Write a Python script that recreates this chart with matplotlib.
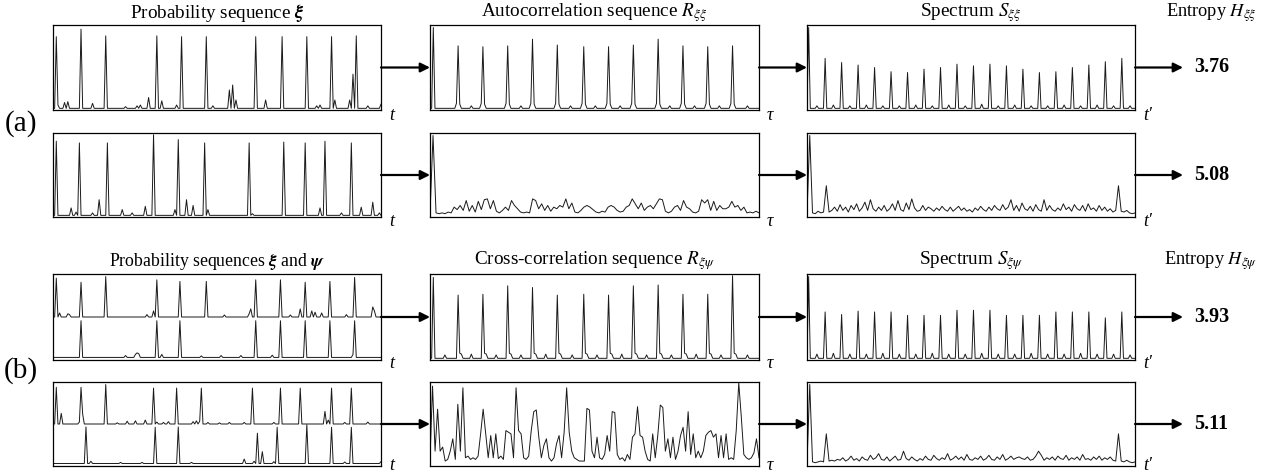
import numpy as np
import matplotlib.pyplot as plt

plt.rcParams['font.family'] = 'Liberation Serif'
plt.rcParams['mathtext.fontset'] = 'stix'

W, H = 1273, 476
N = 200

# ---------------- data ----------------
# (a) row 1 : probability sequence xi
xi_a1_idx = [2, 3, 7, 9, 17, 24, 32, 44, 51, 53, 58, 63, 66, 75, 78, 93, 97, 107, 109, 111,
             123, 129, 139, 154, 160, 162, 169, 171, 180, 182, 184, 191, 199]
xi_a1_val = [.86, .04, .07, .08, .95, .06, .87, .02, .03, .04, .13, .87, .09, .04, .86, .86, .03, .22, .28, .10,
             .86, .10, .86, .86, .03, .04, .86, .10, .10, .41, .87, .03, .05]

# (a) row 2 : probability sequence xi
xi_a2_idx = [2, 11, 14, 16, 24, 28, 33, 42, 48, 56, 61, 74, 76, 81, 85, 92, 94, 119, 121,
             140, 153, 162, 165, 175, 181, 187, 194, 198]
xi_a2_val = [.90, .09, .04, .88, .03, .19, .88, .07, .03, .11, .98, .07, .92, .19, .12, .88, .07, .88, .02,
             .89, .88, .09, .90, .03, .88, .10, .16, .03]

# (a) row 1 : autocorrelation
acf_a1_idx = [2, 16, 17, 18, 31, 32, 33, 46, 47, 48, 61, 62, 63, 76, 77, 78, 92, 93, 94,
              107, 108, 109, 122, 123, 124, 137, 138, 139, 152, 153, 154, 167, 168, 169,
              182, 183, 184, 25, 55, 85, 100, 115, 145, 160, 175, 192]
acf_a1_val = [.97, .06, .75, .05, .06, .74, .05, .06, .75, .05, .06, .83, .05, .06, .76, .05, .06, .74, .05,
              .06, .74, .05, .06, .76, .05, .06, .83, .05, .06, .75, .05, .06, .74, .05,
              .06, .75, .05, .03, .03, .03, .03, .03, .03, .03, .03, .03]

# (a) row 2 : autocorrelation (noisy)
acf_a2 = [0.02, 0.97, 0.03, 0.02, 0.03, 0.02, 0.04, 0.03, 0.10, 0.07, 0.12, 0.06, 0.18, 0.05, 0.12, 0.04,
          0.17, 0.07, 0.19, 0.20, 0.08, 0.18, 0.05, 0.03, 0.06, 0.10, 0.06, 0.18, 0.12, 0.08, 0.04, 0.03,
          0.04, 0.03, 0.20, 0.18, 0.08, 0.14, 0.06, 0.12, 0.05, 0.10, 0.08, 0.12, 0.10, 0.20, 0.08, 0.15,
          0.04, 0.03, 0.06, 0.10, 0.12, 0.10, 0.07, 0.04, 0.03, 0.05, 0.04, 0.10, 0.12, 0.10, 0.06, 0.04,
          0.05, 0.10, 0.12, 0.20, 0.14, 0.08, 0.15, 0.06, 0.10, 0.12, 0.08, 0.14, 0.20, 0.19, 0.05, 0.03,
          0.05, 0.10, 0.12, 0.06, 0.18, 0.10, 0.08, 0.04, 0.03, 0.05, 0.19, 0.15, 0.19, 0.06, 0.17, 0.06,
          0.12, 0.08, 0.08, 0.10, 0.17, 0.10, 0.12, 0.06, 0.10, 0.03, 0.04, 0.03, 0.05, 0.03]

# (a) row 1 : spectrum
spec_a1_idx = [1, 11, 21, 31, 41, 51, 61, 71, 81, 91, 101, 111, 121, 131, 141, 151, 161, 171, 181, 191,
               6, 16, 26, 36, 46, 56, 66, 76, 86, 96, 106, 116, 126, 136, 146, 156, 166, 176, 186, 196]
spec_a1_val = [.97, .60, .55, .52, .49, .44, .43, .47, .49, .53, .51, .53, .51, .47, .43, .44, .49, .52, .56, .60,
               .03, .04, .03, .04, .03, .03, .04, .03, .04, .03, .05, .03, .04, .03, .03, .04, .03, .04, .03, .03]

# (a) row 2 : spectrum (noisy)
spec_a2 = [.02, .97, .03, .02, .05, .03, .04, .36, .04, .06,
           .10, .05, .13, .06, .10, .04, .12, .07, .14, .05,
           .09, .16, .06, .19, .08, .05, .10, .06, .12, .05,
           .08, .14, .06, .18, .07, .05, .15, .07, .20, .09,
           .05, .06, .12, .06, .10, .08, .05, .09, .06, .11,
           .07, .05, .10, .05, .08, .11, .06, .09, .05, .07,
           .04, .09, .06, .11, .07, .05, .10, .06, .12, .08,
           .06, .13, .07, .10, .19, .06, .12, .05, .15, .08,
           .06, .11, .05, .13, .07, .05, .19, .06, .12, .07,
           .05, .09, .06, .14, .07, .10, .05, .13, .08, .06,
           .12, .05, .14, .07, .09, .05, .12, .06, .10, .05,
           .08, .04, .06, .36, .05, .04, .06, .03, .02, .03]

# (b) row 1 : probability sequences xi (upper) and psi (lower)
xi_b1_idx = [2, 4, 9, 10, 17, 32, 57, 61, 63, 77, 93, 104, 119, 120, 123, 138, 144, 150, 153, 157,
             159, 163, 168, 178, 183, 194, 195]
xi_b1_val = [.96, .10, .08, .06, .86, 1.0, .06, .15, .92, .88, .88, .05, .08, .20, .92, .92, .05, .20, .86, .15,
             .12, .10, .88, .06, .98, .25, .15]
psi_b1_idx = [17, 44, 50, 51, 52, 63, 66, 77, 90, 102, 114, 123, 133, 138, 153, 168, 182, 183]
psi_b1_val = [.97, .05, .08, .12, .10, .97, .08, .97, .04, .05, .05, .97, .06, .97, .97, .97, .08, .97]

# (b) row 2 : probability sequences xi (upper) and psi (lower)
xi_b2_idx = [2, 5, 16, 17, 18, 32, 39, 45, 50, 56, 61, 63, 67, 70, 75, 85, 87, 89, 90, 94, 101,
             107, 116, 121, 134, 138, 150, 165, 167, 169, 177, 181, 191]
xi_b2_val = [.93, .27, .05, .93, .25, 1.0, .03, .07, .08, .10, .91, .05, .04, .06, .91, .06, .08, .07, .91, .04, .03,
             .04, .04, .91, .04, .91, .91, .32, .10, .91, .04, .91, .05]
psi_b2_idx = [20, 23, 41, 54, 62, 76, 84, 116, 122, 124, 127, 134, 136, 154, 169, 177, 181, 199]
psi_b2_val = [.99, .06, .03, .03, .98, .99, .03, .12, .06, .82, .32, .05, .98, 1.05, .98, .04, .98, .05]

# (b) row 1 : cross-correlation
ccf_b1_idx = [2, 17, 32, 47, 62, 77, 93, 108, 123, 138, 153, 168, 183,
              18, 19, 33, 34, 48, 49, 63, 64, 78, 79, 94, 95, 109, 110, 124, 125, 139, 140,
              154, 155, 169, 170, 184, 185, 9, 25, 40, 55, 70, 86, 101, 116, 131, 146, 161, 176, 192]
ccf_b1_val = [.96, .75, .76, .86, .84, .75, .76, .75, .86, .87, .76, .76, .98,
              .06, .05, .06, .05, .06, .05, .06, .05, .06, .05, .06, .05, .06, .05, .06, .05, .06, .05,
              .06, .05, .06, .05, .06, .05, .04, .05, .04, .04, .05, .04, .04, .05, .04, .04, .05, .04, .04]

# (b) row 2 : cross-correlation (noisy)
ccf_b2 = [.06, .95, .16, .67, .16, .21, .04, .06, .16, .31, .06, .73, .16, .93, .08, .10,
          .06, .08, .06, .10, .37, .67, .37, .08, .35, .08, .37, .07, .10, .06, .41, .39,
          .37, .08, .93, .41, .37, .08, .06, .10, .41, .64, .66, .33, .08, .23, .31, .08,
          .04, .08, .25, .35, .08, .39, .93, .39, .16, .08, .06, .04, .04, .04, .68, .66,
          .16, .08, .33, .08, .06, .12, .35, .16, .64, .63, .12, .06, .08, .04, .12, .06,
          .33, .37, .70, .35, .33, .16, .06, .04, .37, .08, .35, .72, .69, .16, .31, .08,
          .33, .06, .16, .35, .45, .16, .64, .12, .37, .08, .16, .08, .16, .35, .39, .41,
          .33, .37, .08, .35, .08, .37, .06, .08, .06, .41, .99, .58, .12, .08, .06, .08,
          .14, .31, .08]

# (b) row 1 : spectrum
spec_b1_idx = spec_a1_idx
spec_b1_val = [.97, .55, .52, .56, .55, .55, .51, .51, .51, .57, .57, .57, .51, .51, .51, .55, .55, .55, .48, .55,
               .05, .06, .05, .05, .06, .05, .05, .06, .05, .05, .06, .05, .05, .06, .05, .05, .06, .05, .05, .04]

# (b) row 2 : spectrum (noisy)
spec_b2 = [.02, .97, .03, .02, .03, .04, .03, .37, .04, .05,
           .04, .06, .05, .08, .04, .06, .10, .05, .07, .04,
           .09, .06, .05, .11, .06, .08, .13, .06, .05, .09,
           .04, .07, .10, .05, .06, .16, .07, .05, .09, .06,
           .04, .07, .05, .10, .06, .05, .11, .07, .05, .08,
           .06, .13, .05, .07, .10, .06, .09, .05, .12, .06,
           .05, .08, .06, .10, .05, .07, .11, .06, .05, .09,
           .06, .12, .05, .07, .10, .06, .08, .09, .07, .06,
           .09, .05, .06, .10, .16, .11, .05, .08, .06, .09,
           .05, .10, .07, .06, .11, .05, .08, .06, .09, .05,
           .12, .06, .07, .05, .09, .06, .10, .05, .08, .06,
           .09, .05, .04, .37, .04, .03, .05, .03, .02, .03]

entropy_vals = ['3.76', '5.08', '3.93', '5.11']


def spikes(idx, val, n=N):
    y = np.zeros(n)
    y[idx] = val
    return y


# ---------------- layout (pixel boxes) ----------------
cols = [(53, 381), (430, 759), (807, 1135)]
rows = [(25, 110), (133, 217), (274, 360), (382, 466)]

fig = plt.figure(figsize=(W / 100, H / 100), dpi=100)


def box(c, r):
    x0, x1 = cols[c]
    y0, y1 = rows[r]
    ax = fig.add_axes([x0 / W, 1 - y1 / H, (x1 - x0) / W, (y1 - y0) / H])
    ax.set_xticks([])
    ax.set_yticks([])
    for s in ax.spines.values():
        s.set_linewidth(0.9)
    return ax


LC = '#1a1a1a'
LW = 0.7


def single(ax, y):
    x = np.arange(len(y))
    ax.plot(x, y, color=LC, lw=LW)
    ax.set_xlim(0, len(y) - 1)
    ax.set_ylim(-0.02, 1.0)


def pair(ax, up, lo):
    x = np.arange(N)
    ax.plot(x, 0.5 + 0.47 * up, color=LC, lw=LW)
    ax.plot(x, 0.03 + 0.44 * lo, color=LC, lw=LW)
    ax.set_xlim(0, N - 1)
    ax.set_ylim(0, 1.0)


single(box(0, 0), spikes(xi_a1_idx, xi_a1_val))
single(box(0, 1), spikes(xi_a2_idx, xi_a2_val))
single(box(1, 0), spikes(acf_a1_idx, acf_a1_val))
single(box(1, 1), np.array(acf_a2))
single(box(2, 0), spikes(spec_a1_idx, spec_a1_val))
single(box(2, 1), np.array(spec_a2))

pair(box(0, 2), spikes(xi_b1_idx, xi_b1_val), spikes(psi_b1_idx, psi_b1_val))
pair(box(0, 3), spikes(xi_b2_idx, xi_b2_val), spikes(psi_b2_idx, psi_b2_val))
single(box(1, 2), spikes(ccf_b1_idx, ccf_b1_val))
single(box(1, 3), np.array(ccf_b2))
single(box(2, 2), spikes(spec_b1_idx, spec_b1_val))
single(box(2, 3), np.array(spec_b2))

# ---------------- overlay: titles, arrows, labels ----------------
ov = fig.add_axes([0, 0, 1, 1], facecolor='none')
ov.set_xlim(0, W)
ov.set_ylim(H, 0)
ov.axis('off')

FS = 13.8
titles_a = [r'Probability sequence $\boldsymbol{\xi}$',
            r'Autocorrelation sequence $R_{\xi\xi}$',
            r'Spectrum $S_{\xi\xi}$']
titles_b = [r'Probability sequences $\boldsymbol{\xi}$ and $\boldsymbol{\psi}$',
            r'Cross-correlation sequence $R_{\xi\psi}$',
            r'Spectrum $S_{\xi\psi}$']
title_fs_b = [12.8, FS, FS]
for (x0, x1), ta, tb, fsb in zip(cols, titles_a, titles_b, title_fs_b):
    ov.text((x0 + x1) / 2, 13, ta, ha='center', va='center', fontsize=FS)
    ov.text((x0 + x1) / 2, 261, tb, ha='center', va='center', fontsize=fsb)
ov.text(1211, 13, r'Entropy $H_{\xi\xi}$', ha='center', va='center', fontsize=13.2)
ov.text(1211, 261, r'Entropy $H_{\xi\psi}$', ha='center', va='center', fontsize=13.2)

ov.text(21, 124, '(a)', ha='center', va='center', fontsize=21)
ov.text(21, 371, '(b)', ha='center', va='center', fontsize=21)

ap = dict(arrowstyle='-|>', lw=1.6, color='black', mutation_scale=14, shrinkA=0, shrinkB=0)
axis_lbl = ['t', '\u03c4', 't\u2032']
lbl_dy = [5, 5, 3, 0]
for (y0, y1), ent, dy in zip(rows, entropy_vals, lbl_dy):
    ym = (y0 + y1) / 2
    ov.annotate('', xy=(cols[1][0], ym), xytext=(cols[0][1], ym), arrowprops=ap)
    ov.annotate('', xy=(cols[2][0], ym), xytext=(cols[1][1], ym), arrowprops=ap)
    ov.annotate('', xy=(1183, ym), xytext=(cols[2][1], ym), arrowprops=ap)
    ov.text(1194, ym, ent, ha='left', va='center', fontsize=14.5, fontweight='bold')
    for (x0, x1), lbl in zip(cols, axis_lbl):
        ov.text(x1 + 8, y1 + dy, lbl, ha='left', va='center', fontsize=13, fontstyle='italic')

fig.savefig('out.png', dpi=100)
